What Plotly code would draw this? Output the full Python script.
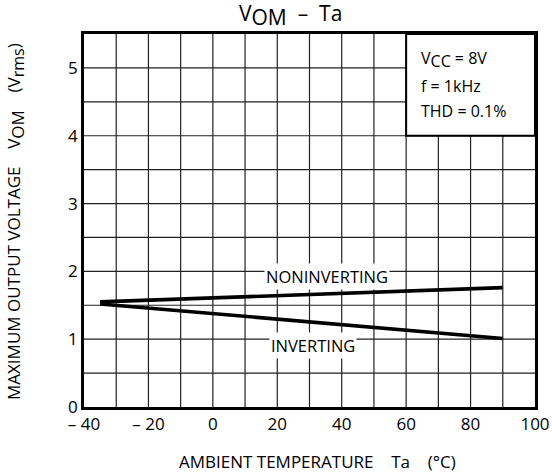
import plotly.graph_objects as go

# Data
temp = [-35, 90]
noninverting = [1.55, 1.76]
inverting = [1.52, 1.01]
x_ticks = [-40, -20, 0, 20, 40, 60, 80, 100]
x_tick_text = ["– 40", "– 20", "0", "20", "40", "60", "80", "100"]
y_ticks = [0, 1, 2, 3, 4, 5]

FONT = "Open Sans"
W, H = 552, 473
L, R, T, B = 84, 17, 34, 473 - 407
PW, PH = W - L - R, H - T - B

def px(xp):  # page x -> paper
    return (xp - L) / PW

def py(yp):  # page y -> paper
    return 1 - (yp - T) / PH

def sub(t, size):
    return f"<sub><span style='font-size:{size}px'>{t}</span></sub>"

fig = go.Figure()

grid_x = list(range(-30, 100, 10))
grid_y = [i * 0.5 for i in range(1, 11)]
for gx in grid_x:
    fig.add_shape(type="line", x0=gx, x1=gx, y0=0, y1=5.5, xref="x", yref="y",
                  line=dict(color="#222", width=1.2), layer="below")
for gy in grid_y:
    fig.add_shape(type="line", x0=-40, x1=100, y0=gy, y1=gy, xref="x", yref="y",
                  line=dict(color="#222", width=1.2), layer="below")

fig.add_shape(type="rect", x0=60, x1=100, y0=4, y1=5.5, xref="x", yref="y",
              fillcolor="white", line=dict(color="black", width=2), layer="below")

fig.add_trace(go.Scatter(x=temp, y=noninverting, mode="lines",
                         line=dict(color="black", width=3.6), showlegend=False))
fig.add_trace(go.Scatter(x=temp, y=inverting, mode="lines",
                         line=dict(color="black", width=3.6), showlegend=False))

fig.add_annotation(x=35.5, y=1.93, text="NONINVERTING", showarrow=False,
                   bgcolor="white", font=dict(family=FONT, size=16.5, color="black"),
                   borderpad=1)
fig.add_annotation(x=31, y=0.9, text="INVERTING", showarrow=False,
                   bgcolor="white", font=dict(family=FONT, size=16.5, color="black"),
                   borderpad=1)

fig.add_annotation(x=64, y=5.12, xanchor="left", showarrow=False,
                   text="V" + sub("CC", 16) + " = 8V", font=dict(family=FONT, size=16, color="black"))
fig.add_annotation(x=64, y=4.74, xanchor="left", showarrow=False,
                   text="f = 1kHz", font=dict(family=FONT, size=16, color="black"))
fig.add_annotation(x=64, y=4.36, xanchor="left", showarrow=False,
                   text="THD = 0.1%", font=dict(family=FONT, size=16, color="black"))

# title
fig.add_annotation(x=px(290), y=py(15), xref="paper", yref="paper", showarrow=False,
                   yanchor="middle", xanchor="center",
                   text="V" + sub("OM", 21) + "  –  Ta", font=dict(family=FONT, size=21, color="black"))
# axis titles
fig.add_annotation(x=px(317), y=py(461), xref="paper", yref="paper", showarrow=False,
                   yanchor="middle", xanchor="center",
                   text="AMBIENT TEMPERATURE    Ta    (°C)",
                   font=dict(family=FONT, size=17, color="black"))
fig.add_annotation(x=px(15), y=py(222), xref="paper", yref="paper", showarrow=False,
                   yanchor="middle", xanchor="center", textangle=-90,
                   text="MAXIMUM OUTPUT VOLTAGE    V" + sub("OM", 17) + "    (V" + sub("rms", 16) + ")",
                   font=dict(family=FONT, size=17, color="black"))

fig.update_layout(
    width=W, height=H,
    margin=dict(l=L, r=R, t=T, b=B),
    paper_bgcolor="white", plot_bgcolor="white",
    font=dict(family=FONT, color="black"),
    xaxis=dict(range=[-40, 100], tickvals=x_ticks, ticktext=x_tick_text,
               showgrid=False, zeroline=False, showline=True, mirror=True,
               linecolor="black", linewidth=2.5, ticks="", automargin=False,
               tickfont=dict(family=FONT, size=17, color="black")),
    yaxis=dict(range=[0, 5.5], tickvals=y_ticks,
               showgrid=False, zeroline=False, showline=True, mirror=True,
               linecolor="black", linewidth=2.5, ticks="", automargin=False,
               tickfont=dict(family=FONT, size=17, color="black")),
)

fig.write_html("out.html", config={"displayModeBar": False},
               post_script="document.body.style.margin='0px';document.body.style.overflow='hidden';")
